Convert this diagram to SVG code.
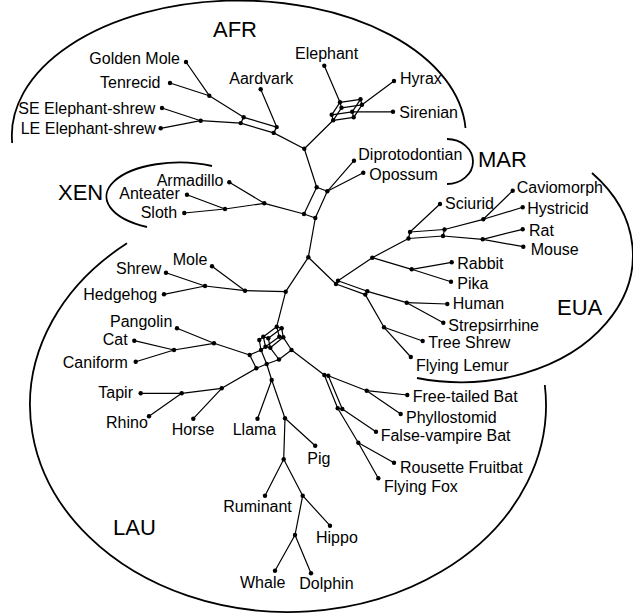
<svg xmlns="http://www.w3.org/2000/svg" width="633" height="613" viewBox="0 0 633 613">
<style>
.e{stroke:#000;stroke-width:1.2;fill:none;stroke-linecap:round}
.r{stroke:#000;stroke-width:1.8;fill:none}
circle{fill:#000}
text{font-family:"Liberation Sans",Arial,sans-serif;font-size:16px;fill:#000}
.big{font-size:22px}
</style>
<rect width="633" height="613" fill="#fff"/>
<g id="regions">
<path class="r" d="M12.2,143 A227,135 0 0 1 465.5,128"/>
<path class="r" d="M447,139 A26,22.5 0 0 1 447,184"/>
<path class="r" d="M212,166 A73,34 0 0 0 147,227"/>
<path class="r" d="M592,173 A172,127 0 0 1 417,378"/>
<path class="r" d="M127,243.3 A258,207 0 1 0 544.8,385"/>
<text class="big" x="213" y="37">AFR</text>
<text class="big" x="478" y="167">MAR</text>
<text class="big" x="58" y="200">XEN</text>
<text class="big" x="557" y="315">EUA</text>
<text class="big" x="113" y="535">LAU</text>
</g>
<g id="connectors">
<!-- AFR -->
<line class="e" x1="186" y1="62" x2="209.3" y2="95.7"/>
<line class="e" x1="170" y1="83" x2="209.3" y2="95.7"/>
<line class="e" x1="209.3" y1="95.7" x2="243.7" y2="117.3"/>
<line class="e" x1="162" y1="108" x2="200.7" y2="120.7"/>
<line class="e" x1="160.7" y1="128.3" x2="200.7" y2="120.7"/>
<line class="e" x1="200.7" y1="120.7" x2="240.7" y2="123.1"/>
<line class="e" x1="243.7" y1="117.3" x2="276.7" y2="127.1"/>
<line class="e" x1="240.7" y1="123.1" x2="273.7" y2="132.9"/>
<line class="e" x1="243.7" y1="117.3" x2="240.7" y2="123.1"/>
<line class="e" x1="276.7" y1="127.1" x2="273.7" y2="132.9"/>
<line class="e" x1="260.7" y1="89.3" x2="276.7" y2="127.1"/>
<line class="e" x1="273.7" y1="132.9" x2="304.3" y2="148.7"/>
<line class="e" x1="304.3" y1="148.7" x2="333.2" y2="120.3"/>
<!-- cube -->
<line class="e" x1="340" y1="102.3" x2="360.5" y2="99.3"/>
<line class="e" x1="340" y1="102.3" x2="341.5" y2="107.8"/>
<line class="e" x1="340" y1="102.3" x2="331.7" y2="114.8"/>
<line class="e" x1="360.5" y1="99.3" x2="362" y2="104.8"/>
<line class="e" x1="360.5" y1="99.3" x2="352.2" y2="111.8"/>
<line class="e" x1="341.5" y1="107.8" x2="362" y2="104.8"/>
<line class="e" x1="341.5" y1="107.8" x2="333.2" y2="120.3"/>
<line class="e" x1="331.7" y1="114.8" x2="352.2" y2="111.8"/>
<line class="e" x1="331.7" y1="114.8" x2="333.2" y2="120.3"/>
<line class="e" x1="362" y1="104.8" x2="353.7" y2="117.3"/>
<line class="e" x1="352.2" y1="111.8" x2="353.7" y2="117.3"/>
<line class="e" x1="333.2" y1="120.3" x2="353.7" y2="117.3"/>
<line class="e" x1="324.3" y1="65.7" x2="340" y2="102.3"/>
<line class="e" x1="394" y1="81" x2="362" y2="104.8"/>
<line class="e" x1="393" y1="111.8" x2="352.2" y2="111.8"/>
<!-- MAR / XEN box -->
<line class="e" x1="304.3" y1="148.7" x2="316.7" y2="187.3"/>
<line class="e" x1="316.7" y1="187.3" x2="327.3" y2="191.3"/>
<line class="e" x1="316.7" y1="187.3" x2="304" y2="214"/>
<line class="e" x1="327.3" y1="191.3" x2="315.3" y2="218"/>
<line class="e" x1="304" y1="214" x2="315.3" y2="218"/>
<line class="e" x1="327.3" y1="191.3" x2="354" y2="160.7"/>
<line class="e" x1="327.3" y1="191.3" x2="363.3" y2="172.7"/>
<line class="e" x1="304" y1="214" x2="264.3" y2="203.3"/>
<line class="e" x1="264.3" y1="203.3" x2="229.3" y2="182.3"/>
<line class="e" x1="264.3" y1="203.3" x2="225" y2="209"/>
<line class="e" x1="225" y1="209" x2="187" y2="194.7"/>
<line class="e" x1="225" y1="209" x2="184.3" y2="213"/>
<line class="e" x1="315.3" y1="218" x2="308.3" y2="257.3"/>
<!-- EUA -->
<line class="e" x1="308.3" y1="257.3" x2="336" y2="284"/>
<line class="e" x1="338" y1="280.7" x2="336" y2="284"/>
<line class="e" x1="338" y1="280.7" x2="367.3" y2="291.3"/>
<line class="e" x1="336" y1="284" x2="365.3" y2="294.6"/>
<line class="e" x1="367.3" y1="291.3" x2="365.3" y2="294.6"/>
<line class="e" x1="338" y1="280.7" x2="372.3" y2="257.7"/>
<line class="e" x1="372.3" y1="257.7" x2="408.5" y2="238.5"/>
<line class="e" x1="372.3" y1="257.7" x2="411.7" y2="269.3"/>
<line class="e" x1="410" y1="232" x2="444.5" y2="229.5"/>
<line class="e" x1="408.5" y1="238.5" x2="443" y2="236"/>
<line class="e" x1="410" y1="232" x2="408.5" y2="238.5"/>
<line class="e" x1="444.5" y1="229.5" x2="443" y2="236"/>
<line class="e" x1="440" y1="204" x2="410" y2="232"/>
<line class="e" x1="444.5" y1="229.5" x2="483.3" y2="219.3"/>
<line class="e" x1="483.3" y1="219.3" x2="512.7" y2="190.7"/>
<line class="e" x1="483.3" y1="219.3" x2="522.7" y2="207.3"/>
<line class="e" x1="443" y1="236" x2="482.7" y2="239.3"/>
<line class="e" x1="482.7" y1="239.3" x2="522.7" y2="229.3"/>
<line class="e" x1="482.7" y1="239.3" x2="523.3" y2="246.7"/>
<line class="e" x1="411.7" y1="269.3" x2="451.7" y2="262.3"/>
<line class="e" x1="411.7" y1="269.3" x2="451" y2="281.7"/>
<line class="e" x1="367.3" y1="291.3" x2="406.7" y2="302.7"/>
<line class="e" x1="406.7" y1="302.7" x2="447.3" y2="304"/>
<line class="e" x1="406.7" y1="302.7" x2="443.3" y2="322.7"/>
<line class="e" x1="365.3" y1="294.6" x2="384" y2="327.3"/>
<line class="e" x1="384" y1="327.3" x2="422.7" y2="341"/>
<line class="e" x1="384" y1="327.3" x2="410.8" y2="357"/>
<!-- trunk and Eulipotyphla -->
<line class="e" x1="308.3" y1="257.3" x2="285.7" y2="291.7"/>
<line class="e" x1="285.7" y1="291.7" x2="245" y2="290.7"/>
<line class="e" x1="245" y1="290.7" x2="212" y2="266.3"/>
<line class="e" x1="245" y1="290.7" x2="205" y2="286"/>
<line class="e" x1="205" y1="286" x2="166" y2="272.7"/>
<line class="e" x1="205" y1="286" x2="164" y2="294.3"/>
<line class="e" x1="285.7" y1="291.7" x2="276.7" y2="326.7"/>
<!-- LAU network -->
<line class="e" x1="276.7" y1="326.7" x2="281.7" y2="328.3"/>
<line class="e" x1="276.7" y1="326.7" x2="279.3" y2="336.7"/>
<line class="e" x1="281.7" y1="328.3" x2="283.3" y2="337.3"/>
<line class="e" x1="279.3" y1="336.7" x2="283.3" y2="337.3"/>
<line class="e" x1="276.7" y1="326.7" x2="263.3" y2="336.7"/>
<line class="e" x1="281.7" y1="328.3" x2="268.3" y2="338.3"/>
<line class="e" x1="279.3" y1="336.7" x2="265.5" y2="346.7"/>
<line class="e" x1="283.3" y1="337.3" x2="270.3" y2="347.8"/>
<line class="e" x1="263.3" y1="336.7" x2="268.3" y2="338.3"/>
<line class="e" x1="265.5" y1="346.7" x2="270.3" y2="347.8"/>
<line class="e" x1="263.3" y1="336.7" x2="265.5" y2="346.7"/>
<line class="e" x1="268.3" y1="338.3" x2="270.3" y2="347.8"/>
<line class="e" x1="263.3" y1="336.7" x2="259.3" y2="340"/>
<line class="e" x1="259.3" y1="340" x2="261" y2="350"/>
<line class="e" x1="265.5" y1="346.7" x2="261" y2="350"/>
<line class="e" x1="261" y1="350" x2="249.7" y2="355"/>
<line class="e" x1="249.7" y1="355" x2="256.3" y2="368.3"/>
<line class="e" x1="256.3" y1="368.3" x2="266.7" y2="364"/>
<line class="e" x1="261" y1="350" x2="266.7" y2="364"/>
<line class="e" x1="266.7" y1="364" x2="279" y2="359.5"/>
<line class="e" x1="270.3" y1="347.8" x2="279" y2="359.5"/>
<line class="e" x1="279" y1="359.5" x2="291.5" y2="350"/>
<line class="e" x1="283.3" y1="337.3" x2="291.5" y2="350"/>
<!-- Ferae -->
<line class="e" x1="249.7" y1="355" x2="214" y2="343.3"/>
<line class="e" x1="214" y1="343.3" x2="177" y2="328.3"/>
<line class="e" x1="214" y1="343.3" x2="174" y2="350"/>
<line class="e" x1="174" y1="350" x2="134.3" y2="340.7"/>
<line class="e" x1="174" y1="350" x2="135.7" y2="361.7"/>
<!-- Perissodactyla -->
<line class="e" x1="256.3" y1="368.3" x2="221.7" y2="388.3"/>
<line class="e" x1="221.7" y1="388.3" x2="181.7" y2="393.3"/>
<line class="e" x1="181.7" y1="393.3" x2="140.7" y2="393.3"/>
<line class="e" x1="181.7" y1="393.3" x2="149" y2="416.3"/>
<line class="e" x1="221.7" y1="388.3" x2="193.3" y2="418.7"/>
<!-- Cetartiodactyla -->
<line class="e" x1="266.7" y1="364" x2="271.7" y2="380"/>
<line class="e" x1="271.7" y1="380" x2="257.5" y2="418.7"/>
<line class="e" x1="271.7" y1="380" x2="285" y2="418.3"/>
<line class="e" x1="285" y1="418.3" x2="315.2" y2="445.8"/>
<line class="e" x1="285" y1="418.3" x2="283.7" y2="459.3"/>
<line class="e" x1="283.7" y1="459.3" x2="265" y2="495.7"/>
<line class="e" x1="283.7" y1="459.3" x2="302.7" y2="495.7"/>
<line class="e" x1="302.7" y1="495.7" x2="330" y2="525.7"/>
<line class="e" x1="302.7" y1="495.7" x2="295" y2="535"/>
<line class="e" x1="295" y1="535" x2="275" y2="570.7"/>
<line class="e" x1="295" y1="535" x2="311" y2="573.3"/>
<!-- Chiroptera -->
<line class="e" x1="291.5" y1="350" x2="324.3" y2="375"/>
<line class="e" x1="324.3" y1="375" x2="328.3" y2="375.7"/>
<line class="e" x1="324.3" y1="375" x2="337.7" y2="408.3"/>
<line class="e" x1="328.3" y1="375.7" x2="342.3" y2="409"/>
<line class="e" x1="337.7" y1="408.3" x2="342.3" y2="409"/>
<line class="e" x1="328.3" y1="375.7" x2="366.7" y2="390.7"/>
<line class="e" x1="366.7" y1="390.7" x2="407.3" y2="395"/>
<line class="e" x1="366.7" y1="390.7" x2="400.7" y2="414"/>
<line class="e" x1="342.3" y1="409" x2="376" y2="431.7"/>
<line class="e" x1="337.7" y1="408.3" x2="358.3" y2="442.7"/>
<line class="e" x1="358.3" y1="442.7" x2="394" y2="462.7"/>
<line class="e" x1="358.3" y1="442.7" x2="378.3" y2="478.3"/>
</g>
<g id="internal-nodes">
<circle cx="209.3" cy="95.7" r="2.2"/><circle cx="200.7" cy="120.7" r="2.2"/>
<circle cx="243.7" cy="117.3" r="2.2"/><circle cx="276.7" cy="127.1" r="2.2"/>
<circle cx="240.7" cy="123.1" r="2.2"/><circle cx="273.7" cy="132.9" r="2.2"/>
<circle cx="304.3" cy="148.7" r="2.2"/>
<circle cx="340" cy="102.3" r="2.2"/><circle cx="360.5" cy="99.3" r="2.2"/>
<circle cx="341.5" cy="107.8" r="2.2"/><circle cx="362" cy="104.8" r="2.2"/>
<circle cx="331.7" cy="114.8" r="2.2"/><circle cx="352.2" cy="111.8" r="2.2"/>
<circle cx="333.2" cy="120.3" r="2.2"/><circle cx="353.7" cy="117.3" r="2.2"/>
<circle cx="316.7" cy="187.3" r="2.2"/><circle cx="327.3" cy="191.3" r="2.2"/>
<circle cx="304" cy="214" r="2.2"/><circle cx="315.3" cy="218" r="2.2"/>
<circle cx="264.3" cy="203.3" r="2.2"/><circle cx="225" cy="209" r="2.2"/>
<circle cx="308.3" cy="257.3" r="2.2"/><circle cx="285.7" cy="291.7" r="2.2"/>
<circle cx="245" cy="290.7" r="2.2"/><circle cx="205" cy="286" r="2.2"/>
<circle cx="338" cy="280.7" r="2.2"/><circle cx="336" cy="284" r="2.2"/>
<circle cx="367.3" cy="291.3" r="2.2"/><circle cx="365.3" cy="294.6" r="2.2"/>
<circle cx="372.3" cy="257.7" r="2.2"/><circle cx="411.7" cy="269.3" r="2.2"/>
<circle cx="410" cy="232" r="2.2"/><circle cx="444.5" cy="229.5" r="2.2"/>
<circle cx="408.5" cy="238.5" r="2.2"/><circle cx="443" cy="236" r="2.2"/>
<circle cx="483.3" cy="219.3" r="2.2"/><circle cx="482.7" cy="239.3" r="2.2"/>
<circle cx="406.7" cy="302.7" r="2.2"/><circle cx="384" cy="327.3" r="2.2"/>
<circle cx="276.7" cy="326.7" r="2.2"/><circle cx="281.7" cy="328.3" r="2.2"/>
<circle cx="279.3" cy="336.7" r="2.2"/><circle cx="283.3" cy="337.3" r="2.2"/>
<circle cx="263.3" cy="336.7" r="2.2"/><circle cx="268.3" cy="338.3" r="2.2"/>
<circle cx="265.5" cy="346.7" r="2.2"/><circle cx="270.3" cy="347.8" r="2.2"/>
<circle cx="259.3" cy="340" r="2.2"/><circle cx="261" cy="350" r="2.2"/>
<circle cx="249.7" cy="355" r="2.2"/><circle cx="256.3" cy="368.3" r="2.2"/>
<circle cx="266.7" cy="364" r="2.2"/><circle cx="279" cy="359.5" r="2.2"/>
<circle cx="291.5" cy="350" r="2.2"/>
<circle cx="214" cy="343.3" r="2.2"/><circle cx="174" cy="350" r="2.2"/>
<circle cx="221.7" cy="388.3" r="2.2"/><circle cx="181.7" cy="393.3" r="2.2"/>
<circle cx="271.7" cy="380" r="2.2"/><circle cx="285" cy="418.3" r="2.2"/>
<circle cx="283.7" cy="459.3" r="2.2"/><circle cx="302.7" cy="495.7" r="2.2"/>
<circle cx="295" cy="535" r="2.2"/>
<circle cx="324.3" cy="375" r="2.2"/><circle cx="328.3" cy="375.7" r="2.2"/>
<circle cx="337.7" cy="408.3" r="2.2"/><circle cx="342.3" cy="409" r="2.2"/>
<circle cx="366.7" cy="390.7" r="2.2"/><circle cx="358.3" cy="442.7" r="2.2"/>
</g>
<g id="golden-mole"><circle cx="186" cy="62" r="2.2"/><text x="89.3" y="64">Golden Mole</text></g>
<g id="tenrecid"><circle cx="170" cy="83" r="2.2"/><text x="100" y="87.5">Tenrecid</text></g>
<g id="se-elephant-shrew"><circle cx="162" cy="108" r="2.2"/><text x="18.3" y="113.5">SE Elephant-shrew</text></g>
<g id="le-elephant-shrew"><circle cx="160.7" cy="128.3" r="2.2"/><text x="20.7" y="133.5">LE Elephant-shrew</text></g>
<g id="aardvark"><circle cx="260.7" cy="89.3" r="2.2"/><text x="229.3" y="84.3">Aardvark</text></g>
<g id="elephant"><circle cx="324.3" cy="65.7" r="2.2"/><text x="295" y="59.3">Elephant</text></g>
<g id="hyrax"><circle cx="394" cy="81" r="2.2"/><text x="400" y="83.5">Hyrax</text></g>
<g id="sirenian"><circle cx="393" cy="111.8" r="2.2"/><text x="399.3" y="118.3">Sirenian</text></g>
<g id="diprotodontian"><circle cx="354" cy="160.7" r="2.2"/><text x="358.3" y="159.5">Diprotodontian</text></g>
<g id="opossum"><circle cx="363.3" cy="172.7" r="2.2"/><text x="369.3" y="180">Opossum</text></g>
<g id="armadillo"><circle cx="229.3" cy="182.3" r="2.2"/><text x="156.7" y="186">Armadillo</text></g>
<g id="anteater"><circle cx="187" cy="194.7" r="2.2"/><text x="119.3" y="199">Anteater</text></g>
<g id="sloth"><circle cx="184.3" cy="213" r="2.2"/><text x="140.7" y="218.3">Sloth</text></g>
<g id="mole"><circle cx="212" cy="266.3" r="2.2"/><text x="172.7" y="265">Mole</text></g>
<g id="shrew"><circle cx="166" cy="272.7" r="2.2"/><text x="116" y="274.3">Shrew</text></g>
<g id="hedgehog"><circle cx="164" cy="294.3" r="2.2"/><text x="83.3" y="300">Hedgehog</text></g>
<g id="pangolin"><circle cx="177" cy="328.3" r="2.2"/><text x="110" y="327.3">Pangolin</text></g>
<g id="cat"><circle cx="134.3" cy="340.7" r="2.2"/><text x="102.7" y="345">Cat</text></g>
<g id="caniform"><circle cx="135.7" cy="361.7" r="2.2"/><text x="62.8" y="367.5">Caniform</text></g>
<g id="tapir"><circle cx="140.7" cy="393.3" r="2.2"/><text x="98.3" y="397.7">Tapir</text></g>
<g id="rhino"><circle cx="149" cy="416.3" r="2.2"/><text x="106" y="428.3">Rhino</text></g>
<g id="horse"><circle cx="193.3" cy="418.7" r="2.2"/><text x="171.7" y="434.5">Horse</text></g>
<g id="llama"><circle cx="257.5" cy="418.7" r="2.2"/><text x="232.7" y="435.3">Llama</text></g>
<g id="pig"><circle cx="315.2" cy="445.8" r="2.2"/><text x="307.3" y="463.5">Pig</text></g>
<g id="ruminant"><circle cx="265" cy="495.7" r="2.2"/><text x="223.3" y="511.5">Ruminant</text></g>
<g id="hippo"><circle cx="330" cy="525.7" r="2.2"/><text x="316" y="543.3">Hippo</text></g>
<g id="whale"><circle cx="275" cy="570.7" r="2.2"/><text x="240" y="588.3">Whale</text></g>
<g id="dolphin"><circle cx="311" cy="573.3" r="2.2"/><text x="299.3" y="589.3">Dolphin</text></g>
<g id="free-tailed-bat"><circle cx="407.3" cy="395" r="2.2"/><text x="412.7" y="401.7">Free-tailed Bat</text></g>
<g id="phyllostomid"><circle cx="400.7" cy="414" r="2.2"/><text x="406" y="422.7">Phyllostomid</text></g>
<g id="false-vampire-bat"><circle cx="376" cy="431.7" r="2.2"/><text x="380.7" y="440.7">False-vampire Bat</text></g>
<g id="rousette-fruitbat"><circle cx="394" cy="462.7" r="2.2"/><text x="400" y="472.7">Rousette Fruitbat</text></g>
<g id="flying-fox"><circle cx="378.3" cy="478.3" r="2.2"/><text x="384" y="491.7">Flying Fox</text></g>
<g id="sciurid"><circle cx="440" cy="204" r="2.2"/><text x="445" y="209.3">Sciurid</text></g>
<g id="caviomorph"><circle cx="512.7" cy="190.7" r="2.2"/><text x="516.7" y="192.5">Caviomorph</text></g>
<g id="hystricid"><circle cx="522.7" cy="207.3" r="2.2"/><text x="527.3" y="214">Hystricid</text></g>
<g id="rat"><circle cx="522.7" cy="229.3" r="2.2"/><text x="529" y="235.5">Rat</text></g>
<g id="mouse"><circle cx="523.3" cy="246.7" r="2.2"/><text x="530.7" y="255">Mouse</text></g>
<g id="rabbit"><circle cx="451.7" cy="262.3" r="2.2"/><text x="457.3" y="269">Rabbit</text></g>
<g id="pika"><circle cx="451" cy="281.7" r="2.2"/><text x="457.3" y="289.3">Pika</text></g>
<g id="human"><circle cx="447.3" cy="304" r="2.2"/><text x="452.7" y="309.3">Human</text></g>
<g id="strepsirrhine"><circle cx="443.3" cy="322.7" r="2.2"/><text x="448.3" y="331.3">Strepsirrhine</text></g>
<g id="tree-shrew"><circle cx="422.7" cy="341" r="2.2"/><text x="428.3" y="348.3">Tree Shrew</text></g>
<g id="flying-lemur"><circle cx="410.8" cy="357" r="2.2"/><text x="416" y="370.7">Flying Lemur</text></g>
</svg>
